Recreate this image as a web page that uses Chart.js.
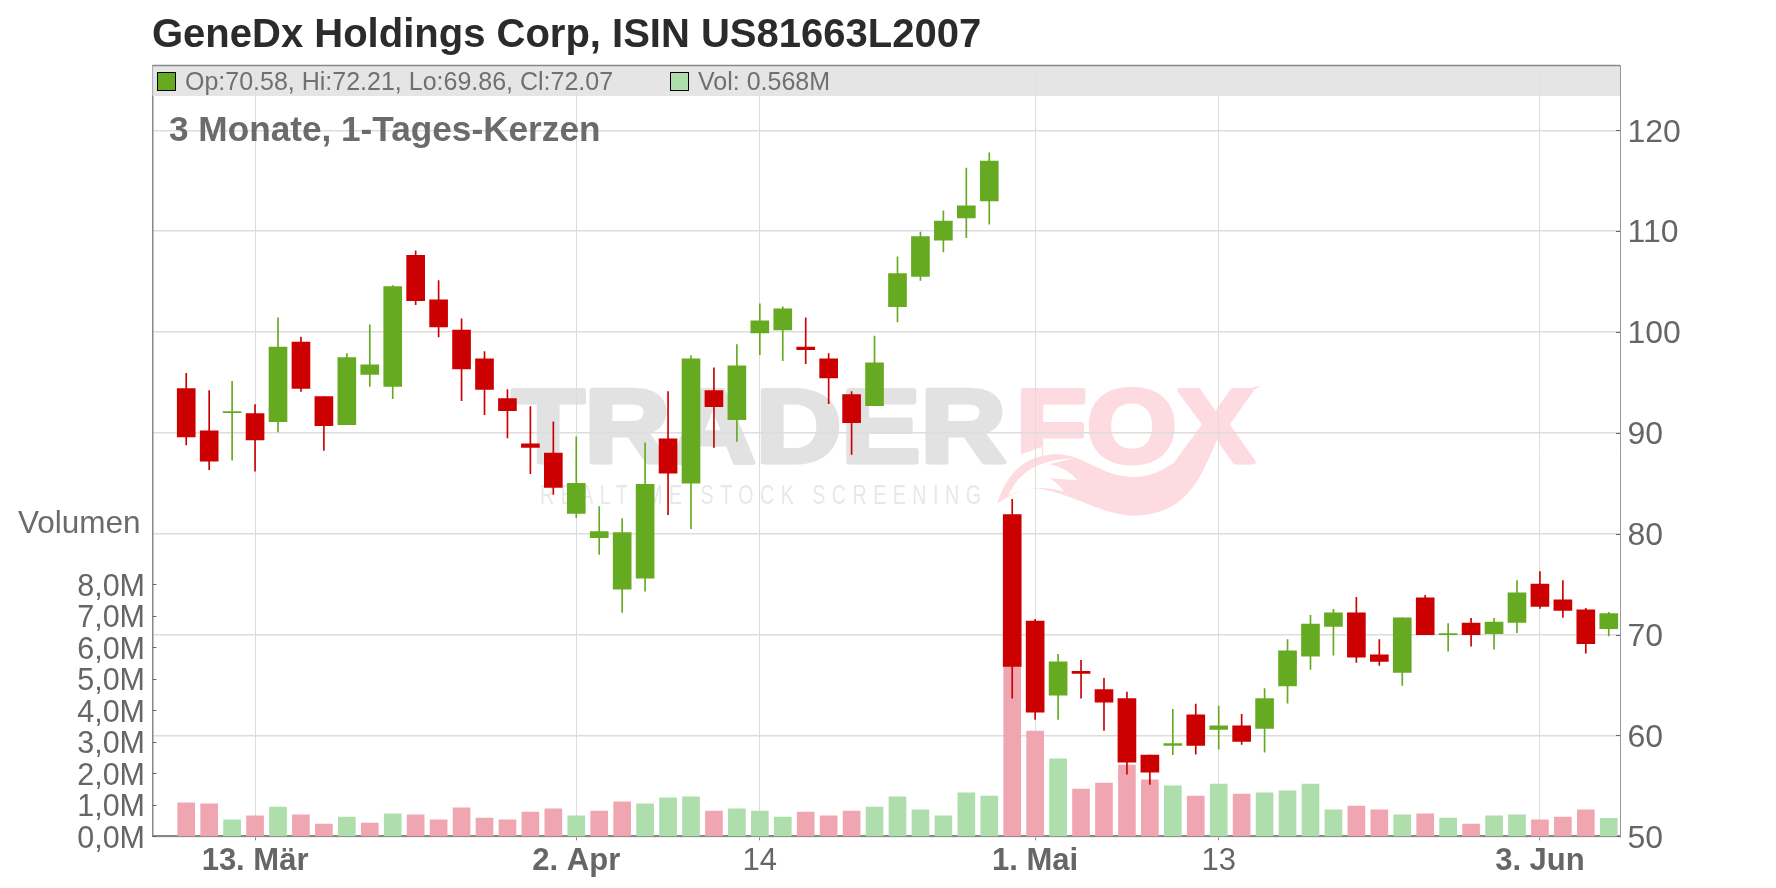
<!DOCTYPE html>
<html>
<head>
<meta charset="utf-8">
<style>
html,body{margin:0;padding:0;background:#fff;}
#wrap{position:relative;width:1776px;height:888px;overflow:hidden;font-family:"Liberation Sans",Arial,sans-serif;}
canvas{position:absolute;left:0;top:0;}
.lbl{position:absolute;white-space:nowrap;line-height:1;}
</style>
<script src="https://cdn.jsdelivr.net/npm/chart.js@4/dist/chart.umd.js"></script>
</head>
<body>
<div id="wrap">
<canvas id="c" width="1776" height="888"></canvas>
<div class="lbl" style="left:152px;top:13px;font-size:40px;font-weight:bold;color:#2b2b2b;">GeneDx Holdings Corp, ISIN US81663L2007</div>
<div class="lbl" style="left:185px;top:69px;font-size:25px;color:#707070;">Op:70.58, Hi:72.21, Lo:69.86, Cl:72.07</div>
<div class="lbl" style="left:698px;top:69px;font-size:25px;color:#707070;">Vol: 0.568M</div>
<div class="lbl" style="left:169px;top:111px;font-size:35.2px;font-weight:bold;color:#6b6b6b;">3 Monate, 1-Tages-Kerzen</div>
<div class="lbl" style="left:18px;top:507px;font-size:31.5px;color:#6b6b6b;">Volumen</div>
</div>
<script>
// candles, oldest first (10 Mar - 6 Jun)
const opens  = [94.4,90.2,92.0,91.9,91.1,99.0,93.6,90.8,95.8,94.6,107.6,103.2,100.2,97.35,93.4,88.9,88.0,82.0,79.6,74.5,75.6,89.4,85.0,94.2,91.3,99.9,100.2,98.5,97.35,93.8,92.7,102.5,105.5,109.1,111.3,113.0,81.9,71.35,64.0,66.35,64.55,63.65,58.05,59.0,62.05,60.6,60.95,60.7,64.9,67.85,70.8,72.15,68.0,66.25,73.65,70.0,71.15,70.1,71.2,75.0,73.45,72.45,70.58];
const closes = [89.6,87.2,92.1,89.3,98.5,94.4,90.7,97.45,96.75,104.5,103.1,100.5,96.35,94.3,92.2,88.55,84.6,85.0,80.2,80.1,84.9,86.0,97.35,92.6,96.65,101.1,102.3,98.25,95.45,91.0,96.95,105.8,109.45,111.0,112.5,116.95,66.85,62.3,67.3,66.15,63.3,57.35,56.35,59.2,59.0,60.95,59.4,63.65,68.4,71.05,72.15,67.75,67.35,71.65,70.0,70.1,70.0,71.25,74.15,72.8,72.4,69.1,72.07];
const highs  = [95.9,94.2,95.1,92.8,101.4,99.5,93.6,97.85,100.7,104.6,108.05,105.1,101.3,98.05,94.3,92.6,91.1,89.6,82.7,81.5,89.0,94.1,97.65,96.45,98.75,102.8,102.5,101.4,97.85,94.1,99.6,107.45,109.9,112.0,116.25,117.75,83.4,71.5,68.05,67.45,65.65,64.3,58.05,62.6,63.1,62.9,62.1,64.65,69.5,71.9,72.5,73.7,69.5,71.65,73.9,71.1,71.6,71.6,75.35,76.25,75.35,72.6,72.21];
const lows   = [88.8,86.35,87.3,86.2,90.1,94.1,88.25,90.8,94.6,93.4,102.7,99.5,93.2,91.8,89.5,85.95,83.9,81.6,77.95,72.2,74.3,81.9,80.5,88.55,89.15,97.75,97.15,96.85,92.9,87.85,92.7,101.0,105.1,107.95,109.35,110.7,63.7,61.6,61.6,63.7,60.5,56.15,55.15,58.1,58.15,58.65,59.1,58.35,63.2,66.55,67.95,67.25,66.95,64.95,70.0,68.35,68.85,68.55,70.2,72.6,71.7,68.15,69.86];
// volume in millions, and whether the volume bar is the green one
const volumes = [1.06,1.03,0.52,0.65,0.93,0.68,0.39,0.61,0.42,0.71,0.68,0.52,0.90,0.58,0.52,0.77,0.87,0.65,0.80,1.09,1.03,1.22,1.25,0.80,0.87,0.80,0.61,0.77,0.65,0.80,0.93,1.25,0.84,0.65,1.38,1.28,5.5,3.34,2.46,1.50,1.69,2.26,1.79,1.60,1.28,1.66,1.34,1.38,1.44,1.66,0.84,0.96,0.84,0.68,0.71,0.58,0.39,0.65,0.68,0.52,0.61,0.84,0.568];
const volUp = [0,0,1,0,1,0,0,1,0,1,0,0,0,0,0,0,0,1,0,0,1,1,1,0,1,1,1,0,0,0,1,1,1,1,1,1,0,0,1,0,0,0,0,1,0,1,0,1,1,1,1,0,0,1,0,1,0,1,1,0,0,0,1];

const priceTicks = [50,60,70,80,90,100,110,120];
const volTicks = [0,1,2,3,4,5,6,7,8];
const dateTickPos = [3,17,25,37,45,59];
const dateTickLabels = ["13. Mär","2. Apr","14","1. Mai","13","3. Jun"];
const dateTickBold = [true,true,false,true,false,true];

const GREEN="#66aa22", RED="#cc0000", VOLGREEN="#addeab", VOLRED="#efa6b0";
const isUp = i => closes[i] >= opens[i];

Chart.defaults.font.family='"Liberation Sans",Arial,sans-serif';
Chart.defaults.color="#666";

function tail(ctx){
    // fox tail of the watermark, outline and inner fur as one evenodd path
    const X=x=>990+x/3, Y=y=>375+y/3;
    ctx.beginPath();
    ctx.moveTo(X(22),Y(385));
    ctx.bezierCurveTo(X(50),Y(300),X(100),Y(240),X(200),Y(238));
    ctx.bezierCurveTo(X(290),Y(240),X(330),Y(305),X(430),Y(306));
    ctx.bezierCurveTo(X(530),Y(306),X(610),Y(220),X(660),Y(150));
    ctx.bezierCurveTo(X(700),Y(90),X(740),Y(40),X(815),Y(33));
    ctx.bezierCurveTo(X(750),Y(60),X(710),Y(120),X(670),Y(220));
    ctx.bezierCurveTo(X(620),Y(340),X(570),Y(420),X(430),Y(422));
    ctx.bezierCurveTo(X(330),Y(420),X(230),Y(345),X(130),Y(340));
    ctx.bezierCurveTo(X(90),Y(340),X(50),Y(370),X(22),Y(385));
    ctx.closePath();
    ctx.moveTo(X(55),Y(362));
    ctx.bezierCurveTo(X(85),Y(300),X(130),Y(255),X(250),Y(250));
    ctx.lineTo(X(178),Y(268));
    ctx.quadraticCurveTo(X(235),Y(280),X(262),Y(316));
    ctx.lineTo(X(178),Y(310));
    ctx.quadraticCurveTo(X(205),Y(325),X(222),Y(350));
    ctx.bezierCurveTo(X(150),Y(330),X(100),Y(340),X(55),Y(362));
    ctx.closePath();
    ctx.fill("evenodd");
}

function fatText(ctx,txt,x,y,width,fill){
    // rounded heavy letters, stretched to the wanted width
    const w=ctx.measureText(txt).width;
    ctx.save();
    ctx.translate(x,y);
    ctx.scale(width/w,1);
    ctx.fillStyle=fill;
    ctx.strokeStyle=fill;
    ctx.lineWidth=5;
    ctx.lineJoin="round";
    ctx.strokeText(txt,0,0);
    ctx.fillText(txt,0,0);
    ctx.restore();
}

const decorations = {
    id:"decorations",
    beforeDraw(chart){
        // watermark sits under the grid
        const ctx=chart.ctx;
        ctx.save();
        ctx.textAlign="left";
        ctx.textBaseline="alphabetic";
        const grad=ctx.createLinearGradient(0,388,0,465);
        grad.addColorStop(0,"#e2e2e2");
        grad.addColorStop(1,"#f1f1f1");
        ctx.font='bold 104px "Liberation Sans"';
        fatText(ctx,"TRADER",512,462,494,grad);
        fatText(ctx,"FOX",1016,462,238,"#fddbe0");
        ctx.fillStyle="#fff";
        ctx.beginPath();ctx.moveTo(1010,458);ctx.lineTo(1042,447);ctx.lineTo(1042,470);ctx.lineTo(1010,470);ctx.fill();
        ctx.fillStyle="#fddbe0";
        tail(ctx);
        ctx.fillStyle="#e8e8e8";
        ctx.font='28px "Liberation Sans"';
        ctx.letterSpacing="9.3px";
        ctx.save();
        ctx.translate(540,504);
        ctx.scale(0.7,1);
        ctx.fillText("REALTIME STOCK SCREENING",0,0);
        ctx.restore();
        ctx.letterSpacing="0px";
        ctx.restore();
    },
    beforeDatasetsDraw(chart){
        const {ctx,chartArea:a,scales}=chart;
        ctx.save();
        // info band
        ctx.fillStyle="rgba(226,226,226,0.9)";
        ctx.fillRect(a.left,a.top,a.right-a.left,30.5);
        ctx.strokeStyle="#888";
        ctx.lineWidth=1.5;
        ctx.beginPath();ctx.moveTo(a.left,a.top);ctx.lineTo(a.right,a.top);ctx.stroke();
        // legend swatches
        ctx.lineWidth=1;
        ctx.strokeStyle="#000";
        ctx.fillStyle=GREEN;
        ctx.fillRect(157.5,72.5,18,18);ctx.strokeRect(157.5,72.5,18,18);
        ctx.fillStyle=VOLGREEN;
        ctx.fillRect(670.5,72.5,18,18);ctx.strokeRect(670.5,72.5,18,18);
        // inward tick marks
        ctx.strokeStyle="#666";
        ctx.beginPath();
        volTicks.forEach(v=>{
            const y=Math.round(scales.yVol.getPixelForValue(v))+0.5;
            ctx.moveTo(a.left,y);ctx.lineTo(a.left+4,y);
        });
        priceTicks.forEach(v=>{
            const y=Math.round(scales.yPrice.getPixelForValue(v))+0.5;
            ctx.moveTo(a.right-4,y);ctx.lineTo(a.right,y);
        });
        ctx.stroke();
        ctx.restore();
    }
};

const idx = opens.map((_,i)=>i);
new Chart(document.getElementById("c"),{
    type:"bar",
    data:{datasets:[
        {
            label:"Volumen", yAxisID:"yVol", grouped:false, order:3, barThickness:17,
            data:idx.map(i=>({x:i,y:volumes[i]})),
            backgroundColor:idx.map(i=>volUp[i]?VOLGREEN:VOLRED)
        },
        {
            label:"Docht", yAxisID:"yPrice", grouped:false, order:2, barThickness:1,
            data:idx.map(i=>({x:i,y:[lows[i],highs[i]]})),
            backgroundColor:idx.map(i=>isUp(i)?GREEN:RED)
        },
        {
            label:"Kerze", yAxisID:"yPrice", grouped:false, order:1, barThickness:18,
            data:idx.map(i=>({x:i,y:[opens[i],closes[i]]})),
            backgroundColor:idx.map(i=>isUp(i)?GREEN:RED)
        }
    ]},
    options:{
        responsive:false,
        animation:false,
        devicePixelRatio:1,
        layout:{padding:{top:65.5,left:0,right:0,bottom:0}},
        plugins:{legend:{display:false},tooltip:{enabled:false},title:{display:false}},
        scales:{
            x:{
                type:"linear", offset:false,
                min:-1.47, max:62.49,
                grid:{color:"#dddddd",lineWidth:1,offset:false,tickLength:4,tickColor:"#888"},
                border:{color:"#888",width:2},
                afterBuildTicks:s=>{s.ticks=dateTickPos.map(v=>({value:v}));},
                afterFit:s=>{s.height=51.7;},
                ticks:{
                    autoSkip:false,maxRotation:0,minRotation:0,padding:3,color:"#666",
                    font:c=>({size:31,weight:dateTickBold[dateTickPos.indexOf(c.tick&&c.tick.value)]?"bold":"normal"}),
                    callback:v=>dateTickLabels[dateTickPos.indexOf(v)]
                }
            },
            yVol:{
                position:"left", min:0, max:24.46,
                grid:{display:false,drawTicks:false},
                border:{color:"#888",width:1.5},
                afterBuildTicks:s=>{s.ticks=volTicks.map(v=>({value:v}));},
                afterFit:s=>{s.width=152.5;},
                ticks:{autoSkip:false,padding:7.5,labelOffset:3,color:"#666",font:{size:30.5},callback:v=>v.toFixed(1).replace(".",",")+"M"}
            },
            yPrice:{
                position:"right", min:50, max:126.42,
                grid:{color:"#dddddd",lineWidth:1.5,drawTicks:false},
                border:{color:"#999",width:1},
                afterBuildTicks:s=>{s.ticks=priceTicks.map(v=>({value:v}));},
                afterFit:s=>{s.width=156;},
                ticks:{autoSkip:false,padding:7.5,labelOffset:2.5,color:"#666",font:{size:32},callback:v=>String(v)}
            }
        }
    },
    plugins:[decorations]
});
</script>
</body>
</html>
